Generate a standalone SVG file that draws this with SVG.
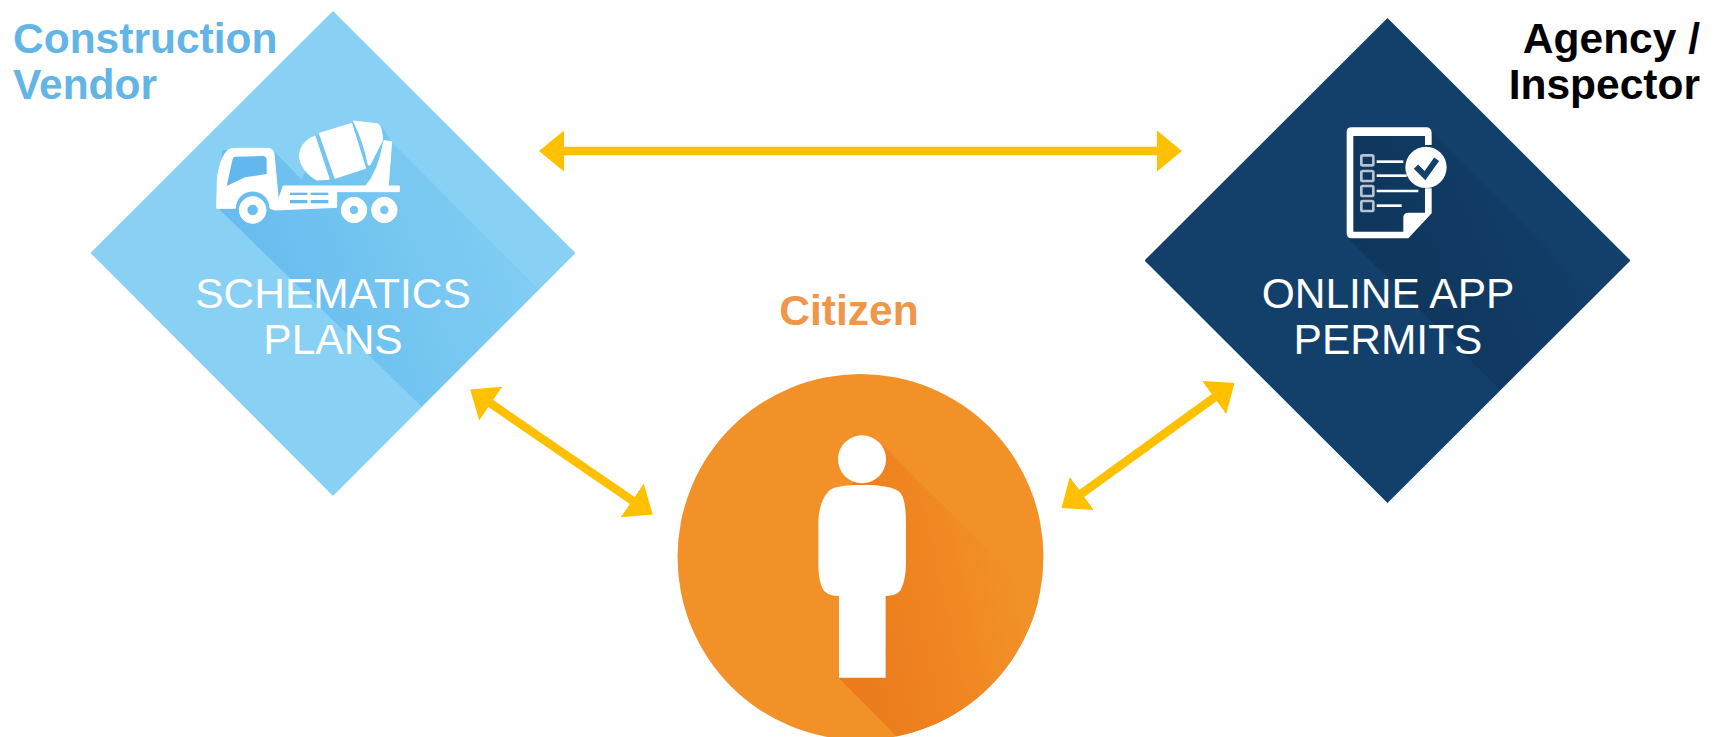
<svg xmlns="http://www.w3.org/2000/svg" width="1713" height="737" viewBox="0 0 1713 737">
<style>
text{font-family:"Liberation Sans",Arial,sans-serif;font-size:42.5px}
.b{font-weight:700}
.w{fill:#fff;text-anchor:middle}
.ico{fill:#fff}
.fat{stroke:#fff;stroke-width:3}
.conn{stroke:#ffc000;stroke-width:8.5;fill:none;marker-start:url(#head);marker-end:url(#head)}
</style>
<defs>
<marker id="head" viewBox="0 0 25 41" refX="1" refY="20.5" markerWidth="25" markerHeight="41" markerUnits="userSpaceOnUse" orient="auto-start-reverse"><path d="M0,0L25,20.500L0,41Z" fill="#ffc000"/></marker>
<linearGradient id="gb" gradientUnits="userSpaceOnUse" x1="240" y1="300" x2="520" y2="200"><stop offset="0" stop-color="#66baee"/><stop offset=".45" stop-color="#72c4f0"/><stop offset="1" stop-color="#82cef5"/></linearGradient>
<linearGradient id="gn" gradientUnits="userSpaceOnUse" x1="1340" y1="300" x2="1590" y2="200"><stop offset="0" stop-color="#0f3459"/><stop offset=".5" stop-color="#103a62"/><stop offset="1" stop-color="#133f6b"/></linearGradient>
<linearGradient id="go" gradientUnits="userSpaceOnUse" x1="830" y1="600" x2="1010" y2="560"><stop offset="0" stop-color="#ea7a1c"/><stop offset=".5" stop-color="#f08420"/><stop offset="1" stop-color="#f29128"/></linearGradient>
<clipPath id="cc"><circle cx="860.5" cy="557" r="183"/></clipPath>
</defs>
<g id="vendor">
<path d="M333,11L573,250.500Q577,253 573,255.500L333,496L93,255.500Q89,253 93,250.500Z" fill="#89d0f5"/>
<path d="M220,210L222,150L273,150L302,180L318,135L392,142L538.500,289L421.500,406.500Z" fill="url(#gb)"/>
<g class="ico" transform="translate(200,100) scale(.3333)">
<path class="fat" fill-rule="evenodd" d="M50,325L52,240C55,200 70,160 85,150Q90,145 105,145L205,145Q220,147 222,160L235,300L250,258L598,258L598,275L410,275L410,322L225,330L210,325A52,52 0 0 0 106,325Z"/>
<path d="M103,170L190,168Q200,170 200,180L200,222L135,232L80,258L95,190Q98,172 103,170Z" fill="#62b8ee"/>
<path class="fat" fill-rule="evenodd" d="M158,290A40,40 0 1 0 158.100,290ZM158,313A17,17 0 1 1 157.900,313Z"/>
<path class="fat" fill-rule="evenodd" d="M462,292A38,38 0 1 0 462.100,292ZM462,316A14,14 0 1 1 461.900,316Z"/>
<path class="fat" fill-rule="evenodd" d="M553,292A38,38 0 1 0 553.100,292ZM553,316A14,14 0 1 1 552.900,316Z"/>
<path d="M345,108L460,65L545,78L575,125L560,240L400,240L300,170Z" fill="#74c6f2"/>
<path class="fat" d="M345,108L388,238L350,240Q305,215 298,170Q300,125 345,108Z"/>
<path class="fat" d="M358,100L455,70L497,205L405,235Z"/>
<path class="fat" d="M460,63L535,72Q545,78 548,120L510,195L505,195Q490,120 460,63Z"/>
<path class="fat" d="M552,122L575,125L565,257L498,257Q535,215 552,122Z"/>
<g fill="#66baee"><rect x="270" y="278" width="52" height="7"/><rect x="332" y="278" width="53" height="7"/><rect x="270" y="300" width="52" height="10"/><rect x="332" y="300" width="53" height="10"/></g>
</g>
<text class="w" x="333" y="308">SCHEMATICS</text>
<text class="w" x="333" y="354">PLANS</text>
<text class="b" x="13" y="53" fill="#62b5e5">Construction</text>
<text class="b" x="13" y="99" fill="#62b5e5">Vendor</text>
</g>
<g id="agency">
<path d="M1387.500,18L1628,258Q1632,260.500 1628,263L1387.500,503L1147,263Q1143,260.500 1147,258Z" fill="#133f6b"/>
<path d="M1348,238L1353,136L1432,132L1594.500,294.500L1499.500,389.500Z" fill="url(#gn)"/>
<g transform="translate(1320,110) scale(.3333)">
<path class="ico" d="M80,65Q80,52 95,52L322,52Q335,55 335,70L335,105L315,105L315,78L100,78L100,365L250,365L250,320Q252,308 265,308L315,308L315,235L335,235L335,310L265,385L95,385Q80,385 80,370Z"/>
<circle class="ico" cx="318" cy="172" r="62"/>
<path d="M288,170L315,197L350,148" fill="none" stroke="#133f6b" stroke-width="18"/>
<g fill="none" stroke="#b7c4d0" stroke-width="8"><rect x="124" y="136" width="36" height="30" rx="4"/><rect x="124" y="183" width="36" height="30" rx="4"/><rect x="124" y="228" width="36" height="30" rx="4"/><rect x="124" y="273" width="36" height="30" rx="4"/></g>
<g stroke="#fff" stroke-width="8"><path d="M170,155H250"/><path d="M170,197H260"/><path d="M170,243H295"/><path d="M170,287H245"/></g>
</g>
<text class="w" x="1388" y="308">ONLINE APP</text>
<text class="w" x="1388" y="354">PERMITS</text>
<text class="b" x="1700" y="53" text-anchor="end">Agency /</text>
<text class="b" x="1700" y="99" text-anchor="end">Inspector</text>
</g>
<g id="citizen">
<circle cx="860.500" cy="557" r="183" fill="#f29128"/>
<path clip-path="url(#cc)" d="M883,445L1040,603L1060,740L900,740L839,678V500Z" fill="url(#go)"/>
<g class="ico"><circle cx="862" cy="459.300" r="24"/>
<path transform="translate(660,360) scale(.3333)" d="M585,375Q515,378 505,395Q480,420 475,480L475,620Q478,680 495,695Q510,708 537,708L537,953L677,953L677,708Q710,708 722,690Q738,660 738,610L738,490Q738,420 722,400Q705,378 630,375Z"/></g>
<text class="b" x="849" y="325" text-anchor="middle" fill="#f0964a">Citizen</text>
</g>
<g id="connectors">
<line class="conn" x1="563" y1="151" x2="1158" y2="151"/>
<line class="conn" x1="490" y1="403" x2="633" y2="501"/>
<line class="conn" x1="1081" y1="494" x2="1215" y2="397"/>
</g>
</svg>
